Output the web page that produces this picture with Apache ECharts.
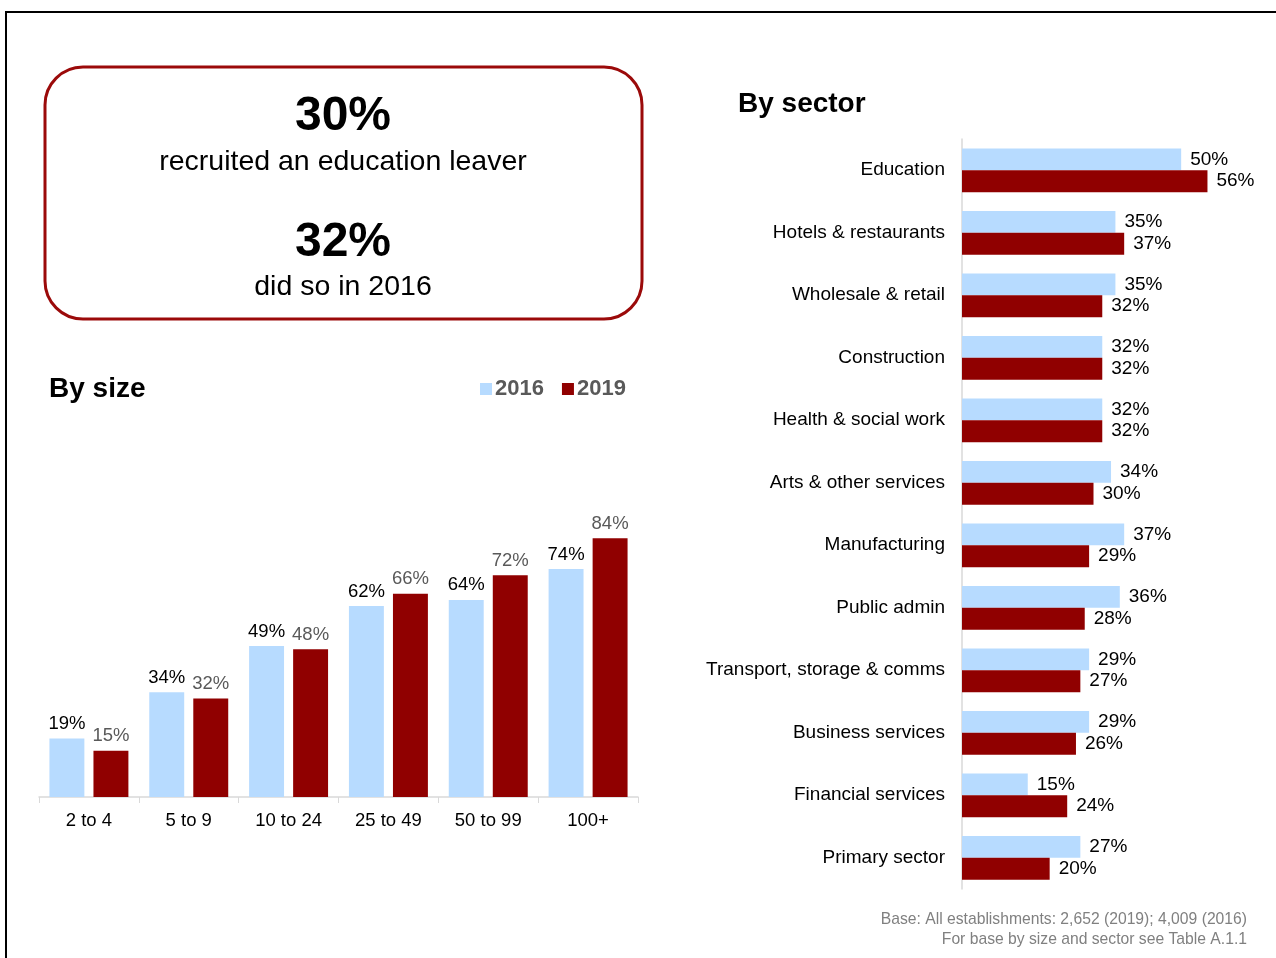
<!DOCTYPE html>
<html>
<head>
<meta charset="utf-8">
<script src="https://cdn.jsdelivr.net/npm/echarts@6/dist/echarts.min.js"></script>
<style>
  html, body { margin: 0; padding: 0; background: #fff; }
  #main { width: 1276px; height: 958px; }
</style>
</head>
<body>
<div id="main"></div>
<script>
// by size
const sizeCats = ['2 to 4', '5 to 9', '10 to 24', '25 to 49', '50 to 99', '100+'];
const size2016 = [19, 34, 49, 62, 64, 74];
const size2019 = [15, 32, 48, 66, 72, 84];

// by sector
const sectorCats = ['Education', 'Hotels & restaurants', 'Wholesale & retail', 'Construction',
  'Health & social work', 'Arts & other services', 'Manufacturing', 'Public admin',
  'Transport, storage & comms', 'Business services', 'Financial services', 'Primary sector'];
const sector2016 = [50, 35, 35, 32, 32, 34, 37, 36, 29, 29, 15, 27];
const sector2019 = [56, 37, 32, 32, 32, 30, 29, 28, 27, 26, 24, 20];

const BLUE = '#b7dbff';
const RED = '#900000';
const FONT = '"Liberation Sans", Arial, sans-serif';

let chart = echarts.init(document.getElementById('main'));

const option = {
  backgroundColor: '#fff',
  animation: false,
  textStyle: { fontFamily: FONT },
  title: [
    { text: 'By size', left: 44, top: 370, textStyle: { fontSize: 28, fontWeight: 'bold', color: '#000', fontFamily: FONT } },
    { text: 'By sector', left: 733, top: 85, textStyle: { fontSize: 28, fontWeight: 'bold', color: '#000', fontFamily: FONT } }
  ],
  legend: {
    data: ['2016', '2019'],
    left: 475, top: 373,
    itemWidth: 12, itemHeight: 12, itemGap: 18,
    icon: 'rect',
    textStyle: { fontSize: 22, fontWeight: 'bold', color: '#595959', fontFamily: FONT, padding: [0, 0, 0, -2] }
  },
  grid: [
    { left: 39, width: 599, top: 489, height: 308 },
    { left: 962, width: 263, top: 139, height: 750 }
  ],
  xAxis: [
    {
      gridIndex: 0, type: 'category', data: sizeCats,
      axisLine: { lineStyle: { color: '#d9d9d9', width: 1.5 } },
      axisTick: { show: true, length: 6, lineStyle: { color: '#d9d9d9' } },
      axisLabel: { fontSize: 18.5, color: '#000', margin: 14, fontFamily: FONT }
    },
    {
      gridIndex: 1, type: 'value', min: 0, max: 60, show: false
    }
  ],
  yAxis: [
    { gridIndex: 0, type: 'value', min: 0, max: 100, show: false },
    {
      gridIndex: 1, type: 'category', data: sectorCats, inverse: true,
      axisLine: { lineStyle: { color: '#d9d9d9', width: 1.5 } },
      axisTick: { show: false },
      axisLabel: { fontSize: 19, color: '#000', margin: 17, fontFamily: FONT }
    }
  ],
  series: [
    {
      name: '2016', type: 'bar', xAxisIndex: 0, yAxisIndex: 0, data: size2016,
      barWidth: '35%', barGap: '26%', itemStyle: { color: BLUE },
      label: { show: true, position: 'top', distance: 5, formatter: '{c}%', fontSize: 18.5, color: '#000', fontFamily: FONT }
    },
    {
      name: '2019', type: 'bar', xAxisIndex: 0, yAxisIndex: 0, data: size2019,
      barWidth: '35%', barGap: '26%', itemStyle: { color: RED },
      label: { show: true, position: 'top', distance: 5, formatter: '{c}%', fontSize: 18.5, color: '#595959', fontFamily: FONT }
    },
    {
      name: '2016', type: 'bar', xAxisIndex: 1, yAxisIndex: 1, data: sector2016,
      barWidth: '35%', barGap: '0%', itemStyle: { color: BLUE },
      label: { show: true, position: 'right', distance: 9, formatter: '{c}%', fontSize: 19, color: '#000', fontFamily: FONT }
    },
    {
      name: '2019', type: 'bar', xAxisIndex: 1, yAxisIndex: 1, data: sector2019,
      barWidth: '35%', barGap: '0%', itemStyle: { color: RED },
      label: { show: true, position: 'right', distance: 9, formatter: '{c}%', fontSize: 19, color: '#000', fontFamily: FONT }
    }
  ],
  graphic: [
    // outer frame
    { type: 'polyline', shape: { points: [[6, 958], [6, 12], [1276, 12]] }, style: { stroke: '#000', lineWidth: 2, fill: null } },
    // headline box
    { type: 'rect', shape: { x: 45, y: 67, width: 597, height: 252, r: 38 }, style: { fill: '#fff', stroke: '#9b0a0a', lineWidth: 3 } },
    { type: 'text', style: { text: '30%', x: 343, y: 117, align: 'center', verticalAlign: 'middle', font: 'bold 48px ' + FONT, fill: '#000' } },
    { type: 'text', style: { text: 'recruited an education leaver', x: 343, y: 162, align: 'center', verticalAlign: 'middle', font: '28.5px ' + FONT, fill: '#000' } },
    { type: 'text', style: { text: '32%', x: 343, y: 243, align: 'center', verticalAlign: 'middle', font: 'bold 48px ' + FONT, fill: '#000' } },
    { type: 'text', style: { text: 'did so in 2016', x: 343, y: 287, align: 'center', verticalAlign: 'middle', font: '28.5px ' + FONT, fill: '#000' } },
    // footer
    { type: 'text', style: { text: 'Base: All establishments: 2,652 (2019); 4,009 (2016)', x: 1247, y: 920, align: 'right', verticalAlign: 'middle', font: '15.7px ' + FONT, fill: '#808080' } },
    { type: 'text', style: { text: 'For base by size and sector see Table A.1.1', x: 1247, y: 940, align: 'right', verticalAlign: 'middle', font: '15.7px ' + FONT, fill: '#808080' } }
  ]
};

chart.setOption(option);
</script>
</body>
</html>
